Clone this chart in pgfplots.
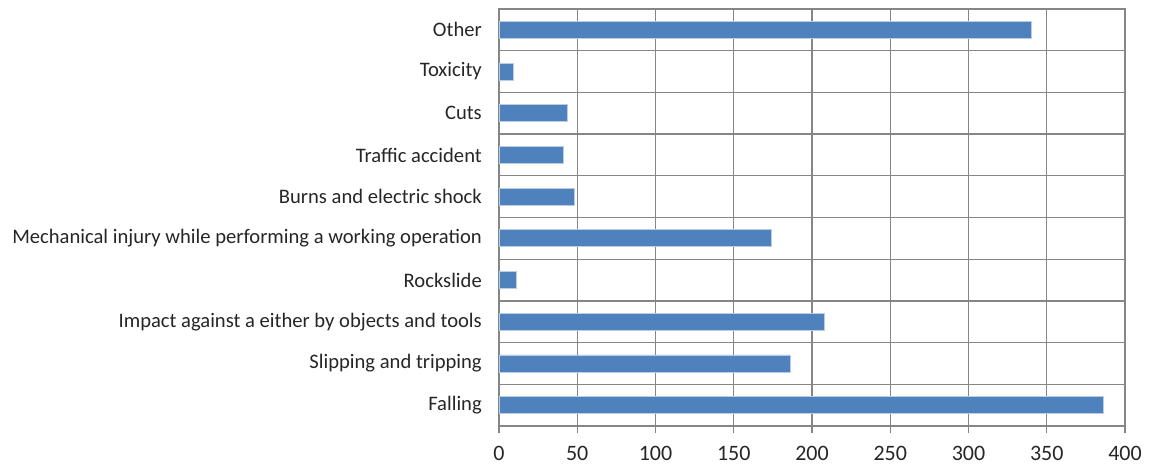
\documentclass[border=0pt]{standalone}
\usepackage{pgfplots}
\pgfplotsset{compat=1.18}
\usepackage{fontspec}
\setmainfont{Carlito}
\definecolor{barblue}{HTML}{4F81BD}
\definecolor{baredge}{HTML}{B9CDE5}
\definecolor{gridgray}{HTML}{868686}
\definecolor{txt}{HTML}{262626}
\begin{document}
\begin{tikzpicture}
\begin{axis}[
  at={(0,0)}, anchor=south west,
  scale only axis,
  width=626pt, height=417pt,
  xbar, bar width=17pt,
  xmin=0, xmax=400,
  ymin=-0.5, ymax=9.5,
  xtick={0,50,...,400},
  ytick={0,...,9},
  yticklabels={Falling,Slipping and tripping,Impact against a either by objects and tools,Rockslide,Mechanical injury while performing a working operation,Burns and electric shock,Traffic accident,Cuts,Toxicity,Other},
  minor ytick={-0.5,0.5,...,9.5},
  xmajorgrids, yminorgrids,
  grid style={gridgray, line width=1.3pt},
  minor grid style={gridgray, line width=1.3pt},
  axis line style={gridgray, line width=1.3pt},
  tick style={gridgray, line width=1.3pt},
  tick align=outside,
  major tick length=7pt,
  minor tick length=6pt,
  ytick style={draw=none},
  minor y tick style={gridgray, line width=1.3pt},
  xtick pos=bottom, ytick pos=left,
  /pgf/number format/assume math mode=true,
  xticklabel style={font=\fontsize{22}{26}\selectfont, text=txt, anchor=north, inner sep=0pt, yshift=-13pt},
  yticklabel style={font=\fontsize{20.6}{24}\selectfont, text=txt, anchor=east, inner sep=0pt, xshift=-10pt},
  clip=false,
]
\addplot[fill=barblue, draw=baredge, line width=0.8pt] coordinates {
  (386,0) (186,1) (208,2) (11,3) (174,4) (48,5) (41,6) (44,7) (9,8) (340,9)
};
\end{axis}
\pgfresetboundingbox
\path[use as bounding box] (-499pt,-38pt) rectangle (650pt,426pt);
\end{tikzpicture}
\end{document}
